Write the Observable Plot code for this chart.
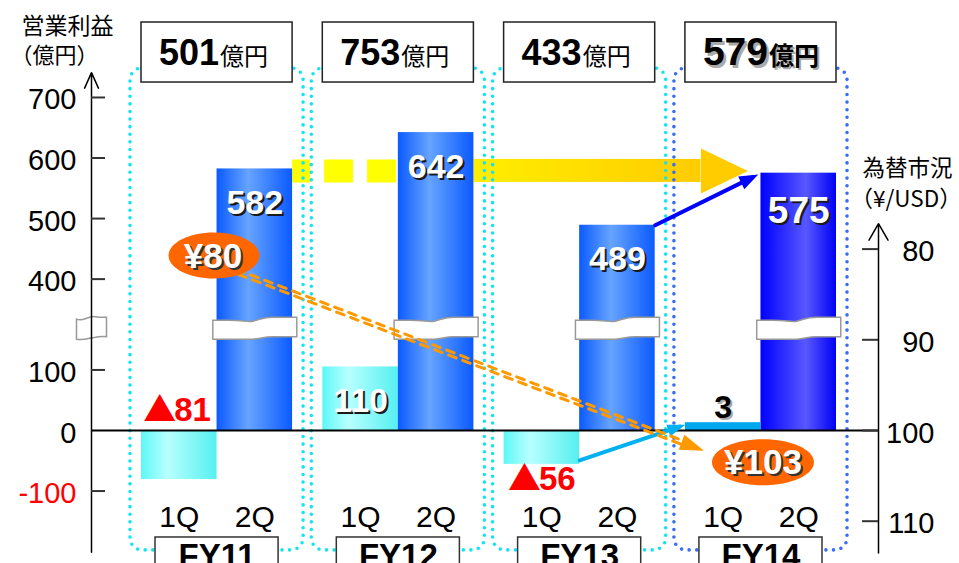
<!DOCTYPE html>
<html lang="ja"><head><meta charset="utf-8">
<script src="https://cdn.jsdelivr.net/npm/d3@7"></script>
<script src="https://cdn.jsdelivr.net/npm/@observablehq/plot@0.6"></script>
<style>
html,body{margin:0;padding:0;background:#fff;}
#wrap{position:relative;width:959px;height:563px;overflow:hidden;background:#fff;}
#wrap svg{position:absolute;left:0;top:0;}
</style></head><body><div id="wrap"></div>
<script>
// ---------------- data ----------------
const fiscalYears = ["FY11", "FY12", "FY13", "FY14"];
const totalProfit = [501, 753, 433, 579];
const q1Profit = [-81, 110, -56, 3];
const q2Profit = [582, 642, 489, 575];
const quarterNames = ["1Q", "2Q"];
const profitTicks = [-100, 0, 100, 400, 500, 600, 700];
const rateYears = ["FY11", "FY14"];
const rateValues = [80, 103];
const rateTicks = [80, 90, 100, 110];
const unitLabel = "億円";
const lossMark = "▲";
const profitTitle = ["営業利益", "（億円）"];
const rateTitle = ["為替市況", "（¥/USD）"];

// ---------------- layout ----------------
const FONT = '"Liberation Sans", Arial, "Noto Sans CJK JP", sans-serif';
const JP = '"Noto Sans CJK JP", "Liberation Sans", sans-serif';
const W = 959, H = 563;
const STEP = 2.4;                       // group spacing in bar widths
const X_DOMAIN = [0, 9.2], X_RANGE = [141, 836];
const PX = (X_RANGE[1] - X_RANGE[0]) / (X_DOMAIN[1] - X_DOMAIN[0]);
const AXL = (91 - X_RANGE[0]) / PX;     // left axis position (x units)
const AXR = (878 - X_RANGE[0]) / PX;    // right axis position (x units)
const K = 0.6055, Y0 = 430;
// broken axis: 100..400 is compressed to half its size
const brk = v => v <= 100 ? v : v >= 400 ? v - 150 : 100 + (v - 100) * 0.5;
const profitY = {transform: brk, domain: [-200, 650], range: [Y0 + 200 * K, Y0 - 650 * K], axis: null};
const rateY = {domain: [80, 110], range: [248.6, 520.7], axis: null};
const xOpt = {domain: X_DOMAIN, range: X_RANGE, axis: null};
const BREAK = 238;

const bars = [];
fiscalYears.forEach((fy, g) => {
  [q1Profit[g], q2Profit[g]].forEach((value, qi) =>
    bars.push({fy, q: quarterNames[qi], value, x1: g * STEP + qi, x2: g * STEP + qi + 1}));
});
const bar = (fy, q) => bars.find(b => b.fy === fy && b.q === q);
const groups = fiscalYears.map((fy, g) => ({fy, total: totalProfit[g], x1: g * STEP, x2: g * STEP + 2, xm: g * STEP + 1}));
const rates = rateYears.map((fy, i) => ({fy, rate: rateValues[i], x: groups.find(g => g.fy === fy).xm}));

// ---------------- symbols ----------------
const sym = f => ({draw: f});
const barBreak = sym(c => {
  c.moveTo(-42, -8); c.lineTo(-26, -8);
  c.bezierCurveTo(-12, -8, -8, -6, -2, -7);
  c.bezierCurveTo(6, -9, 9, -11, 18, -11);
  c.lineTo(42, -11); c.lineTo(42, 8.5); c.lineTo(18, 8.5);
  c.bezierCurveTo(9, 8.5, 6, 10.5, -2, 11);
  c.bezierCurveTo(-8, 11.5, -12, 11, -26, 11);
  c.lineTo(-42, 11); c.closePath();
});
const axisBreak = sym(c => {
  c.moveTo(-15, -9);
  c.bezierCurveTo(-8, -6, -3, -13, 4, -11.5);
  c.bezierCurveTo(9, -10.5, 12, -11, 15, -11);
  c.lineTo(15, 8.5);
  c.bezierCurveTo(12, 8.5, 9, 8, 4, 9);
  c.bezierCurveTo(-3, 10, -8, 12.5, -15, 11);
  c.closePath();
});
const yellowHead = sym(c => { c.moveTo(0, 0); c.lineTo(-47, -22.5); c.lineTo(-47, 22.5); c.closePath(); });
const ellipse = (rx, ry) => sym(c => {
  const k = 0.5523;
  c.moveTo(rx, 0);
  c.bezierCurveTo(rx, ry * k, rx * k, ry, 0, ry);
  c.bezierCurveTo(-rx * k, ry, -rx, ry * k, -rx, 0);
  c.bezierCurveTo(-rx, -ry * k, -rx * k, -ry, 0, -ry);
  c.bezierCurveTo(rx * k, -ry, rx, -ry * k, rx, 0);
  c.closePath();
});

function shadowText(data, opts, color, off) {
  return [
    Plot.text(data, {...opts, fill: color, dx: (opts.dx || 0) + off, dy: (opts.dy || 0) + off}),
    Plot.text(data, opts)
  ];
}
// red loss label: large triangle + absolute value
function lossLabel(data, yOpt, dy, dx) {
  const base = {x: d => d.x1 + 0.5, y: yOpt, dy, lineAnchor: "bottom", fontSize: 33, fontWeight: "bold", fill: "#ff0000"};
  return [
    Plot.text(data, {...base, text: () => lossMark, textAnchor: "end", dx: dx + 1, fontFamily: JP}),
    Plot.text(data, {...base, text: d => String(-d.value), textAnchor: "start", dx: dx - 1, fontFamily: FONT})
  ];
}

// ---------------- main (profit) plot ----------------
const tFrom = bar("FY11", "2Q"), tMid = bar("FY12", "2Q"), tTo = bar("FY14", "2Q");
const blueLink = [{from: bar("FY13", "2Q"), to: bar("FY14", "2Q")}];
const cyanLink = [{from: bar("FY13", "1Q"), to: bar("FY14", "1Q")}];
const linkOpts = {x1: d => d.from.x2, y1: d => d.from.value, x2: d => d.to.x1, y2: d => d.to.value};

const svgL = Plot.plot({
  width: W, height: H, margin: 0,
  x: xOpt, y: profitY,
  style: {background: "white"},
  marks: [
    // yellow trend arrow
    Plot.ruleY([tFrom], {y: "value", x1: d => d.x2, x2: () => tMid.x1, dy: 2, stroke: "#ffff00", strokeWidth: 23, strokeDasharray: "29 14", strokeDashoffset: 11}),
    Plot.rect([tFrom], {y1: "value", y2: "value", x1: () => tMid.x2, x2: () => tTo.x1, insetTop: -11.5, insetBottom: -11.5, insetRight: 60, dy: 2, fill: "url(#gYellow)"}),
    Plot.dot([tFrom], {y: "value", x: () => tTo.x1, dx: -13, dy: 2, symbol: yellowHead, fill: "#ffcc00", stroke: "none"}),
    // dotted group frames
    Plot.rect(groups.filter(g => g.fy !== "FY14"), {x1: "x1", x2: "x2", y1: -198, y2: 748, insetLeft: -11, insetRight: -11, rx: 12, fill: "none", stroke: "#14e4f2", strokeWidth: 3.6, strokeDasharray: "0 7.6", strokeLinecap: "round"}),
    Plot.rect(groups.filter(g => g.fy === "FY14"), {x1: "x1", x2: "x2", y1: -198, y2: 748, insetLeft: -11, insetRight: -11, rx: 12, fill: "none", stroke: "#3a6df5", strokeWidth: 3.6, strokeDasharray: "0 7.6", strokeLinecap: "round"}),
    // bars
    Plot.rect(bars.filter(b => b.q === "1Q" && b.fy !== "FY14"), {x1: "x1", x2: "x2", y1: 0, y2: "value", fill: "url(#gCyan)"}),
    Plot.rect(bars.filter(b => b.q === "2Q" && b.fy !== "FY14"), {x1: "x1", x2: "x2", y1: 0, y2: "value", fill: "url(#gBlue)"}),
    Plot.rect(bars.filter(b => b.q === "2Q" && b.fy === "FY14"), {x1: "x1", x2: "x2", y1: 0, y2: "value", fill: "url(#gBlue2)"}),
    Plot.rect(bars.filter(b => b.q === "1Q" && b.fy === "FY14"), {x1: "x1", x2: "x2", y1: 0, y2: "value", insetTop: -6, fill: "#00a8f0"}),
    // zero line
    Plot.ruleY([0], {x1: AXL, x2: AXR, stroke: "black", strokeWidth: 2}),
    // axis breaks
    Plot.dot(bars.filter(b => b.q === "2Q"), {x: d => d.x1 + 0.5, y: () => BREAK, symbol: barBreak, fill: "white", stroke: "#999", strokeWidth: 1.5}),
    Plot.dot([BREAK], {x: AXL, y: d => d, symbol: axisBreak, fill: "white", stroke: "#999", strokeWidth: 1.5}),
    // arrows between quarters
    Plot.arrow(blueLink, {...linkOpts, headLength: 0, insetEnd: 9, stroke: "#0000ff", strokeWidth: 4, ariaLabel: () => "arrow-blue"}),
    Plot.arrow(cyanLink, {...linkOpts, headLength: 0, insetEnd: 6, dy: -4, stroke: "#00b0f0", strokeWidth: 4, ariaLabel: () => "arrow-cyan"}),
    // quarter labels
    Plot.text(bars, {x: d => d.x1 + 0.5, y: -159.4, text: "q", lineAnchor: "bottom", fontSize: 30, fontFamily: FONT, fill: "black"}),
    // FY boxes
    Plot.rect(groups, {x1: "x1", x2: "x2", insetLeft: 14, insetRight: 14, y1: -290, y2: -176.7, fill: "white", stroke: "#333", strokeWidth: 1.5}),
    Plot.text(groups, {x: "xm", y: -226, text: "fy", lineAnchor: "bottom", fontSize: 33, fontWeight: "bold", fontFamily: FONT, fill: "black"}),
    // total boxes
    Plot.rect(groups, {x1: "x1", x2: "x2", y1: 724.7, y2: 823.8, fill: "white", stroke: "#222", strokeWidth: 1.5}),
    Plot.text(groups.filter(g => g.fy !== "FY14"), {x: "xm", y: 753, text: d => String(d.total), textAnchor: "end", dx: 2, lineAnchor: "bottom", fontSize: 36, fontWeight: "bold", fontFamily: FONT, fill: "black"}),
    Plot.text(groups.filter(g => g.fy !== "FY14"), {x: "xm", y: 753, text: () => unitLabel, textAnchor: "start", dx: 3, lineAnchor: "bottom", fontSize: 24, fontFamily: JP, fill: "black"}),
    shadowText(groups.filter(g => g.fy === "FY14"), {x: "xm", y: 753, text: d => String(d.total), textAnchor: "end", dx: 7, lineAnchor: "bottom", fontSize: 39, fontWeight: "bold", fontFamily: FONT, fill: "black"}, "#aaa", 2.5),
    shadowText(groups.filter(g => g.fy === "FY14"), {x: "xm", y: 753, text: () => unitLabel, textAnchor: "start", dx: 8, lineAnchor: "bottom", fontSize: 25, fontWeight: "bold", fontFamily: JP, fill: "black"}, "#aaa", 2),
    // bar value labels
    shadowText(bars.filter(b => b.value >= 100 && b.fy !== "FY14"), {x: d => d.x1 + 0.5, y: "value", text: d => String(d.value), dy: 45, lineAnchor: "bottom", fontSize: 34, fontWeight: "bold", fontFamily: FONT, fill: "white"}, "#1a1a1a", 2),
    shadowText([bar("FY14", "2Q")], {x: d => d.x1 + 0.5, y: "value", text: d => String(d.value), dy: 50, lineAnchor: "bottom", fontSize: 37, fontWeight: "bold", fontFamily: FONT, fill: "white"}, "#1a1a1a", 2),
    shadowText([bar("FY14", "1Q")], {x: d => d.x1 + 0.5, y: "value", text: d => String(d.value), dy: -11, lineAnchor: "bottom", fontSize: 32, fontWeight: "bold", fontFamily: FONT, fill: "black"}, "#aaa", 2),
    lossLabel([bar("FY11", "1Q")], () => 0, -10, -4),
    lossLabel([bar("FY13", "1Q")], "value", 26, -2),
    // left axis
    Plot.arrow([0], {x1: AXL, x2: AXL, y1: -201, y2: 741, headLength: 17, headAngle: 48, stroke: "black", strokeWidth: 1.5}),
    Plot.ruleY(profitTicks.filter(t => t !== 0), {y: d => d, x1: AXL, x2: AXL + 14 / PX, stroke: "#333", strokeWidth: 2}),
    Plot.text(profitTicks.filter(t => t >= 0), {x: AXL, y: d => d, text: d => String(d), textAnchor: "end", dx: -15, dy: 12, lineAnchor: "bottom", fontSize: 29, fontFamily: FONT, fill: "black"}),
    Plot.text(profitTicks.filter(t => t < 0), {x: AXL, y: d => d, text: d => String(d), textAnchor: "end", dx: -15, dy: 12, lineAnchor: "bottom", fontSize: 29, fontFamily: FONT, fill: "#ff0000"}),
    Plot.text([profitTitle[0]], {frameAnchor: "top-left", dx: 21, dy: 33.5, text: d => d, textAnchor: "start", lineAnchor: "bottom", fontSize: 23, fontFamily: JP, fill: "black"}),
    Plot.text([profitTitle[1]], {frameAnchor: "top-left", dx: 10, dy: 62, text: d => d, textAnchor: "start", lineAnchor: "bottom", fontSize: 22, fontFamily: JP, fill: "black"})
  ]
});

// ---------------- exchange-rate overlay plot ----------------
const rateLink = [{x1: rates[0].x, y1: rates[0].rate, x2: rates[1].x, y2: rates[1].rate}];
const rOpts = {x1: "x1", y1: "y1", x2: "x2", y2: "y2", headLength: 0};
const svgR = Plot.plot({
  width: W, height: H, margin: 0,
  x: xOpt, y: rateY,
  style: {background: "transparent"},
  marks: [
    Plot.arrow(rateLink, {...rOpts, insetStart: 22, insetEnd: 83, dx: -1, dy: 12.5, stroke: "#ff9900", strokeWidth: 3, strokeDasharray: "8 7"}),
    Plot.arrow(rateLink, {...rOpts, insetStart: 22, insetEnd: 83, dx: 1, dy: 17.5, stroke: "#ff9900", strokeWidth: 3, strokeDasharray: "8 7"}),
    Plot.arrow(rateLink, {...rOpts, insetStart: 22, insetEnd: 61, dy: 15, stroke: "#ff9900", strokeOpacity: 0, ariaLabel: () => "arrow-orange"}),
    Plot.dot(rates.filter(r => r.fy === "FY11"), {x: "x", y: "rate", dx: -3, dy: 6.5, symbol: ellipse(45.5, 23), fill: "#ff6600", stroke: "none"}),
    Plot.dot(rates.filter(r => r.fy === "FY14"), {x: "x", y: "rate", dx: 2, dy: 4.5, symbol: ellipse(51, 23), fill: "#ff6600", stroke: "none"}),
    shadowText(rates.filter(r => r.fy === "FY11"), {x: "x", y: "rate", dx: -4, dy: 19, text: d => "¥" + d.rate, lineAnchor: "bottom", fontSize: 35, fontWeight: "bold", fontFamily: FONT, fill: "white"}, "#333", 2),
    shadowText(rates.filter(r => r.fy === "FY14"), {x: "x", y: "rate", dx: 2, dy: 16, text: d => "¥" + d.rate, lineAnchor: "bottom", fontSize: 35, fontWeight: "bold", fontFamily: FONT, fill: "white"}, "#333", 2),
    // right axis
    Plot.arrow([0], {x1: AXR, x2: AXR, y1: 113.5, y2: 77.2, headLength: 19, headAngle: 60, stroke: "black", strokeWidth: 1.5}),
    Plot.ruleY(rateTicks, {y: d => d, x1: AXR - 16 / PX, x2: AXR, stroke: "#333", strokeWidth: 2}),
    Plot.text(rateTicks, {x: AXR, y: d => d, text: d => String(d), textAnchor: "end", dx: 56, dy: 12, lineAnchor: "bottom", fontSize: 29, fontFamily: FONT, fill: "black"}),
    Plot.text([rateTitle[0]], {frameAnchor: "top-left", dx: 862, dy: 175.5, text: d => d, textAnchor: "start", lineAnchor: "bottom", fontSize: 22.5, fontFamily: JP, fill: "black"}),
    Plot.text([rateTitle[1]], {frameAnchor: "top-left", dx: 850, dy: 206.5, text: d => d, textAnchor: "start", lineAnchor: "bottom", fontSize: 22.5, fontFamily: JP, fill: "black"})
  ]
});

// ---------------- gradients & markers ----------------
function grad(defs, id, stops) {
  const g = defs.append("linearGradient").attr("id", id).attr("x1", 0).attr("x2", 1).attr("y1", 0).attr("y2", 0);
  stops.forEach(([o, c]) => g.append("stop").attr("offset", o).attr("stop-color", c));
}
function marker(defs, id, d, color) {
  defs.append("marker").attr("id", id).attr("markerUnits", "userSpaceOnUse").attr("orient", "auto")
    .attr("markerWidth", 1).attr("markerHeight", 1).attr("refX", 0).attr("refY", 0)
    .style("overflow", "visible")
    .append("path").attr("d", d).attr("fill", color).attr("stroke", "none");
}
const defsL = d3.select(svgL).insert("defs", ":first-child");
grad(defsL, "gCyan", [[0, "#5ef7f7"], [0.35, "#b8ffff"], [1, "#55f0f0"]]);
grad(defsL, "gBlue", [[0, "#0b5aff"], [0.42, "#66a4ff"], [1, "#0b5aff"]]);
grad(defsL, "gBlue2", [[0, "#0000ff"], [0.6, "#5858ff"], [1, "#0000f5"]]);
grad(defsL, "gYellow", [[0, "#ffee00"], [1, "#ffcc00"]]);
marker(defsL, "mkBlue", "M6,0 L-13,-7 L-13,7 Z", "#0000ff");
marker(defsL, "mkCyan", "M6,0 L-12,-6 L-12,6 Z", "#00b0f0");
d3.select(svgL).selectAll('path[aria-label="arrow-blue"]').attr("marker-end", "url(#mkBlue)");
d3.select(svgL).selectAll('path[aria-label="arrow-cyan"]').attr("marker-end", "url(#mkCyan)");

const defsR = d3.select(svgR).insert("defs", ":first-child");
marker(defsR, "mkOrange", "M0,0 L-24,-8 L-24,8 Z", "#ff9900");
d3.select(svgR).selectAll('path[aria-label="arrow-orange"]').attr("marker-end", "url(#mkOrange)");

const wrap = document.getElementById("wrap");
wrap.appendChild(svgL);
wrap.appendChild(svgR);
</script></body></html>
